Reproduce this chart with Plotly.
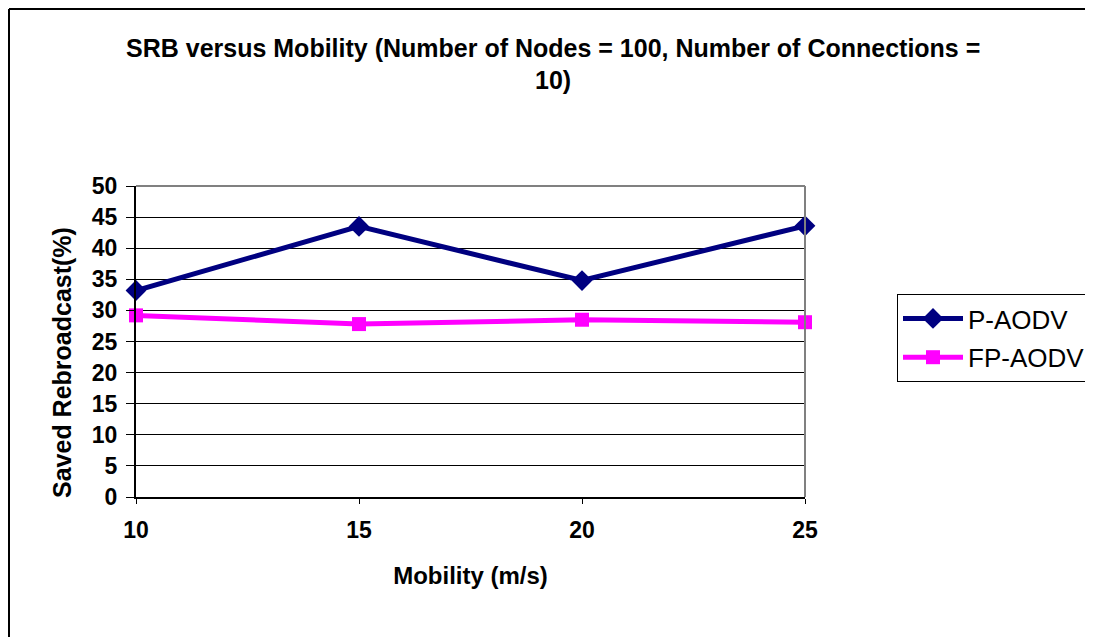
import plotly.graph_objects as go

mobility = [10, 15, 20, 25]
p_aodv = [33.2, 43.5, 34.8, 43.6]
fp_aodv = [29.2, 27.8, 28.5, 28.1]
y_ticks = list(range(0, 51, 5))

FONT = "Arial, Liberation Sans, sans-serif"
OFF = 8  # page body margin in the browser
W, H = 1093 - OFF, 637 - OFF
L, R, T, B = 136 - OFF, 288, 186 - OFF, 140
PX0, PX1 = 136, 805   # screen coords of plot area
PY0, PY1 = 186, 497


def px(x):
    return (x - PX0) / (PX1 - PX0)


def py(y):
    return (PY1 - y) / (PY1 - PY0)


fig = go.Figure()
fig.add_trace(go.Scatter(
    x=mobility, y=p_aodv, name="P-AODV", mode="lines+markers",
    line=dict(color="#000080", width=5),
    marker=dict(symbol="diamond", size=16, color="#000080"),
    cliponaxis=False, legendgroup="a"))
fig.add_trace(go.Scatter(
    x=mobility, y=fp_aodv, name="FP-AODV", mode="lines+markers",
    line=dict(color="#FF00FF", width=5),
    marker=dict(symbol="square", size=14, color="#FF00FF"),
    cliponaxis=False, legendgroup="b"))

fig.update_layout(
    width=W, height=H,
    margin=dict(l=L, r=R, t=T, b=B, autoexpand=False),
    paper_bgcolor="white", plot_bgcolor="white",
    font=dict(family=FONT, color="black", size=24),
    showlegend=True,
    legend=dict(xref="container", yref="container",
                x=(897 - OFF) / W, y=1 - (294 - OFF) / H, xanchor="left", yanchor="top",
                bordercolor="black", borderwidth=1, font=dict(size=26, family=FONT),
                tracegroupgap=2, itemwidth=60, bgcolor="white"),
    xaxis=dict(range=[10, 25], tickvals=mobility, ticktext=[str(v) for v in mobility],
               showgrid=False, zeroline=False, showline=True, linecolor="black", linewidth=2,
               ticks="outside", ticklen=5, tickcolor="black", tickwidth=1,
               tickfont=dict(family=FONT, size=23, color="black", weight="bold"),
               ticklabelstandoff=6,
               title=dict(text="<b>Mobility (m/s)</b>", standoff=26,
                          font=dict(family=FONT, size=24))),
    yaxis=dict(range=[0, 50], tickvals=y_ticks, showgrid=True, gridcolor="black", gridwidth=1,
               zeroline=False, showline=True, linecolor="black", linewidth=2,
               ticks="outside", ticklen=8, tickcolor="black", tickwidth=1,
               tickfont=dict(family=FONT, size=23, color="black", weight="bold"),
               ticklabelstandoff=4),
)

fig.add_annotation(xref="paper", yref="paper", x=px(553), y=py(48), xanchor="center", yanchor="middle",
                   text="<b>SRB versus Mobility (Number of Nodes = 100, Number of Connections =</b>",
                   showarrow=False, font=dict(family=FONT, size=25, color="black"))
fig.add_annotation(xref="paper", yref="paper", x=px(553), y=py(80), xanchor="center", yanchor="middle",
                   text="<b>10)</b>", showarrow=False, font=dict(family=FONT, size=25, color="black"))
fig.add_annotation(xref="paper", yref="paper", x=px(62), y=py(363), xanchor="center", yanchor="middle",
                   text="<b>Saved Rebroadcast(%)</b>", textangle=-90, showarrow=False,
                   font=dict(family=FONT, size=25, color="black"))

# plot area top and right borders (gray)
fig.add_shape(type="line", xref="paper", yref="paper", x0=0, x1=1, y0=1, y1=1,
              line=dict(color="#808080", width=2))
fig.add_shape(type="line", xref="paper", yref="paper", x0=1, x1=1, y0=0, y1=1,
              line=dict(color="#808080", width=2))
# outer chart frame (left and top visible)
fig.add_shape(type="line", xref="paper", yref="paper", x0=px(9), x1=px(9), y0=py(9), y1=py(700),
              line=dict(color="black", width=2))
fig.add_shape(type="line", xref="paper", yref="paper", x0=px(9), x1=px(1200), y0=py(9), y1=py(9),
              line=dict(color="black", width=2))

fig.write_html("out.html")
